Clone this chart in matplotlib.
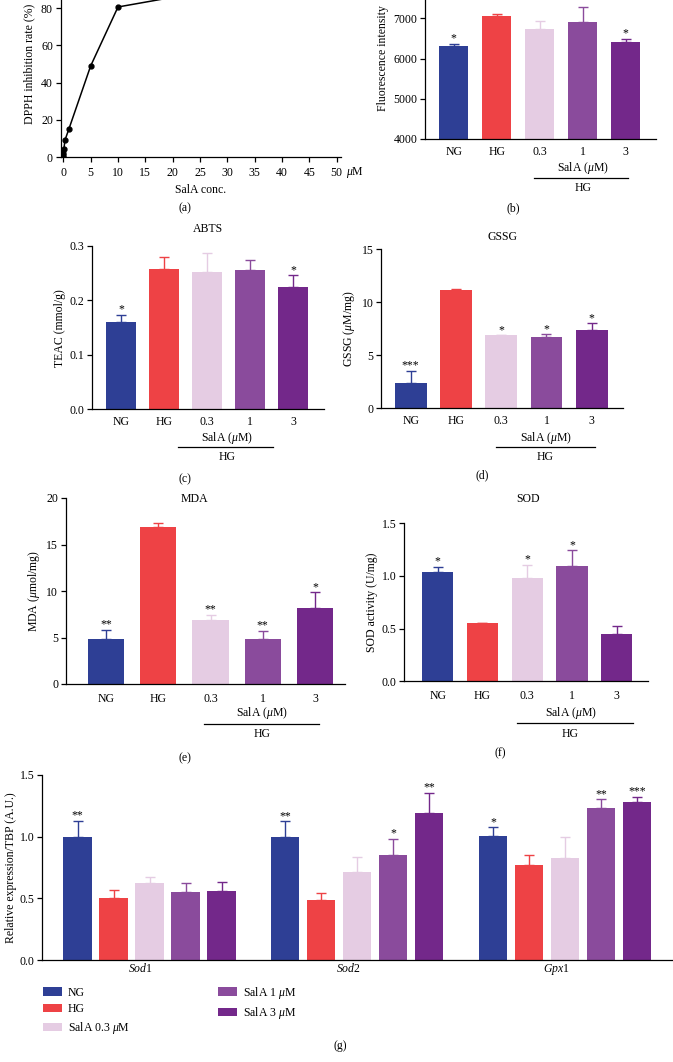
import matplotlib
matplotlib.use('Agg')
import matplotlib.pyplot as plt
from matplotlib.transforms import blended_transform_factory, offset_copy
import numpy as np

plt.rcParams['font.family'] = ['Liberation Serif', 'DejaVu Serif']
plt.rcParams['mathtext.fontset'] = 'custom'
plt.rcParams['mathtext.rm'] = 'Liberation Serif'
plt.rcParams['mathtext.it'] = 'Liberation Serif:italic'
plt.rcParams['font.size'] = 8.5
plt.rcParams['axes.linewidth'] = 0.9
plt.rcParams['xtick.major.width'] = 0.9
plt.rcParams['ytick.major.width'] = 0.9

W, H = 673, 1062

# ---- data ----
dpph_conc = [0, 0.01, 0.03, 0.1, 0.3, 1, 5, 10, 25, 50]
dpph_rate = [0, 1, 2, 4.2, 9.1, 14.9, 49, 80.7, 88.5, 93]

groups = ['NG', 'HG', '0.3', '1', '3']
colors = ['#2E3F95', '#EE4245', '#E5CCE3', '#8A4B9C', '#73288A']

fluo_mean = [6314, 7065, 6730, 6905, 6400]
fluo_err = [60, 57, 208, 391, 90]
fluo_sig = ['*', '', '', '', '*']

abts_mean = [0.160, 0.257, 0.252, 0.2555, 0.224]
abts_err = [0.013, 0.022, 0.035, 0.019, 0.022]
abts_sig = ['*', '', '', '', '*']

gssg_mean = [2.36, 11.16, 6.86, 6.67, 7.36]
gssg_err = [1.19, 0.10, 0.0, 0.28, 0.63]
gssg_sig = ['***', '', '*', '*', '*']

mda_mean = [4.84, 16.9, 6.85, 4.87, 8.17]
mda_err = [1.0, 0.45, 0.57, 0.86, 1.69]
mda_sig = ['**', '', '**', '**', '*']

sod_mean = [1.041, 0.554, 0.984, 1.092, 0.446]
sod_err = [0.048, 0.003, 0.12, 0.152, 0.082]
sod_sig = ['*', '', '*', '*', '']

genes = [r'$\mathit{Sod}$1', r'$\mathit{Sod}$2', r'$\mathit{Gpx}$1']
series = ['NG', 'HG', r'SalA 0.3 $\mu$M', r'SalA 1 $\mu$M', r'SalA 3 $\mu$M']
expr_ng = [1.0, 1.0, 1.003]
expr_hg = [0.504, 0.485, 0.771]
expr_s03 = [0.628, 0.714, 0.83]
expr_s1 = [0.553, 0.849, 1.227]
expr_s3 = [0.563, 1.194, 1.278]
err_ng = [0.127, 0.122, 0.073]
err_hg = [0.062, 0.057, 0.084]
err_s03 = [0.049, 0.119, 0.165]
err_s1 = [0.07, 0.135, 0.075]
err_s3 = [0.073, 0.157, 0.041]
sig_ng = ['**', '**', '*']
sig_hg = ['', '', '']
sig_s03 = ['', '', '']
sig_s1 = ['', '*', '**']
sig_s3 = ['', '**', '***']

fig = plt.figure(figsize=(W / 100, H / 100), dpi=100)


def add_ax(left, top, right, bottom):
    return fig.add_axes([left / W, 1 - bottom / H, (right - left) / W, (bottom - top) / H])


def ftext(x, y, s, **kw):
    fig.text(x / W, 1 - y / H, s, ha='center', va='center', **kw)


def style(ax):
    ax.spines['top'].set_visible(False)
    ax.spines['right'].set_visible(False)
    ax.tick_params(direction='out', length=3.5, pad=2)


def below(ax, dy):
    tr = blended_transform_factory(ax.transData, ax.transAxes)
    return offset_copy(tr, fig=fig, y=-dy, units='dots')


def bar_panel(box, c0, sp, width, means, errs, sigs, ylim, yticks, ylabel, fmt=None, xpad=5):
    left, top, right, bottom = box
    ax = add_ax(left, top, right, bottom)
    x = np.arange(len(groups))
    ax.bar(x, means, width=width, color=colors)
    for i in range(len(groups)):
        ax.errorbar(x[i], means[i], yerr=[[0], [errs[i]]], color=colors[i], capsize=3.5,
                    elinewidth=1.0, capthick=1.0, fmt='none')
        if sigs[i]:
            ax.annotate(sigs[i], xy=(x[i], means[i] + errs[i]), xytext=(0, -0.5),
                        textcoords='offset points', ha='center', va='bottom', fontsize=8.5)
    ax.set_xlim((left - c0) / sp, (right - c0) / sp)
    ax.set_ylim(*ylim)
    ax.set_yticks(yticks)
    if fmt:
        ax.set_yticklabels([fmt.format(v) for v in yticks])
    ax.set_xticks(x)
    ax.set_xticklabels(groups)
    ax.set_ylabel(ylabel, labelpad=3)
    style(ax)
    ax.tick_params(axis='x', length=0, pad=xpad)
    return ax


def hg_bracket(ax, xt, x0, x1, dy_s, dy_l, dy_h):
    ax.text(xt, 0, r'SalA ($\mu$M)', transform=below(ax, dy_s), ha='center', va='center')
    ax.plot([x0, x1], [0, 0], color='black', lw=0.9, transform=below(ax, dy_l), clip_on=False)
    ax.text(xt, 0, 'HG', transform=below(ax, dy_h), ha='center', va='center')


# (a) DPPH curve
axa = add_ax(60.6, -28.9, 341, 157)
axa.plot(dpph_conc, dpph_rate, color='black', lw=1.1, marker='o', markersize=3.5)
axa.set_xlim(-0.5, 50.8)
axa.set_ylim(0, 100)
axa.set_xticks(np.arange(0, 51, 5))
axa.set_yticks(np.arange(0, 81, 20))
axa.set_xlabel('SalA conc.', labelpad=3)
axa.set_ylabel('DPPH inhibition rate (%)', labelpad=4)
style(axa)
axa.tick_params(axis='x', pad=4)
axa.annotate(r'$\mu$M', xy=(50, 0), xycoords='data', xytext=(7, -11),
             textcoords='offset points', ha='left', va='center')
ftext(185, 208, '(a)')

# (b) fluorescence
axb = bar_panel((425, -21.7, 656, 138.7), 453.7, 43, 0.68, fluo_mean, fluo_err, fluo_sig,
                (4000, 8000), [4000, 5000, 6000, 7000], 'Fluorescence intensity')
hg_bracket(axb, 3.0, 1.87, 4.05, 29.3, 39.3, 49.3)
ftext(513, 208, '(b)')

# (c) ABTS
axc = bar_panel((92.3, 246, 324, 409.3), 121.3, 43, 0.70, abts_mean, abts_err, abts_sig,
                (0, 0.3), [0, 0.1, 0.2, 0.3], 'TEAC (mmol/g)', fmt='{:.1f}')
hg_bracket(axc, 2.46, 1.32, 3.53, 29, 38, 47.4)
ftext(208, 229.3, 'ABTS')
ftext(185, 479.3, '(c)')

# (d) GSSG
axd = bar_panel((381, 249, 623, 408.3), 410.7, 45.25, 0.70, gssg_mean, gssg_err, gssg_sig,
                (0, 15), [0, 5, 10, 15], r'GSSG ($\mu$M/mg)')
hg_bracket(axd, 2.98, 1.885, 4.07, 30, 39, 48.4)
ftext(502, 236.7, 'GSSG')
ftext(481.7, 475, '(d)')

# (e) MDA
axe = bar_panel((65.7, 498, 345, 684), 106, 52.25, 0.69, mda_mean, mda_err, mda_sig,
                (0, 20), [0, 5, 10, 15, 20], r'MDA ($\mu$mol/mg)', xpad=6.5)
hg_bracket(axe, 2.98, 1.876, 4.08, 29.3, 40, 50.3)
ftext(194, 499.3, 'MDA')
ftext(185, 758.3, '(e)')

# (f) SOD
axf = bar_panel((404.3, 523.3, 647.7, 681.3), 437.7, 44.75, 0.70, sod_mean, sod_err, sod_sig,
                (0, 1.5), [0, 0.5, 1.0, 1.5], 'SOD activity (U/mg)', fmt='{:.1f}', xpad=6)
hg_bracket(axf, 2.97, 1.765, 4.37, 32, 42, 53)
ftext(528.3, 499, 'SOD')
ftext(500, 753.3, '(f)')

# (g) relative expression
axg = add_ax(42.3, 774.7, 673, 960.3)
gstep = 5.77
centers = np.arange(len(genes)) * gstep + 2
means_all = [expr_ng, expr_hg, expr_s03, expr_s1, expr_s3]
errs_all = [err_ng, err_hg, err_s03, err_s1, err_s3]
sigs_all = [sig_ng, sig_hg, sig_s03, sig_s1, sig_s3]
for k in range(len(series)):
    xs = np.arange(len(genes)) * gstep + k
    axg.bar(xs, means_all[k], width=0.79, color=colors[k], label=series[k])
    axg.errorbar(xs, means_all[k], yerr=[np.zeros(len(genes)), errs_all[k]], fmt='none',
                 color=colors[k], capsize=3.5, elinewidth=1.0, capthick=1.0)
    for j in range(len(genes)):
        if sigs_all[k][j]:
            axg.annotate(sigs_all[k][j], xy=(xs[j], means_all[k][j] + errs_all[k][j]),
                         xytext=(0, -0.5), textcoords='offset points', ha='center',
                         va='bottom', fontsize=8.5)
axg.set_xlim((42.3 - 77.5) / 36, (673 - 77.5) / 36)
axg.set_ylim(0, 1.5)
axg.set_yticks([0, 0.5, 1.0, 1.5])
axg.set_yticklabels(['0.0', '0.5', '1.0', '1.5'])
axg.set_xticks(centers - 0.25)
axg.set_xticklabels(genes)
axg.set_ylabel('Relative expression/TBP (A.U.)', labelpad=2)
style(axg)
axg.tick_params(axis='x', length=0, pad=1)

handles, labels = axg.get_legend_handles_labels()
fig.legend(handles, labels, loc='upper left', bbox_to_anchor=(39.5 / W, 1 - 981 / H), ncol=2,
           frameon=False, handlelength=1.6, handleheight=0.7, handletextpad=0.5,
           columnspacing=7.5, labelspacing=0.4, borderaxespad=0, borderpad=0.3)
ftext(340, 1046, '(g)')

fig.savefig('out.png', dpi=100)
